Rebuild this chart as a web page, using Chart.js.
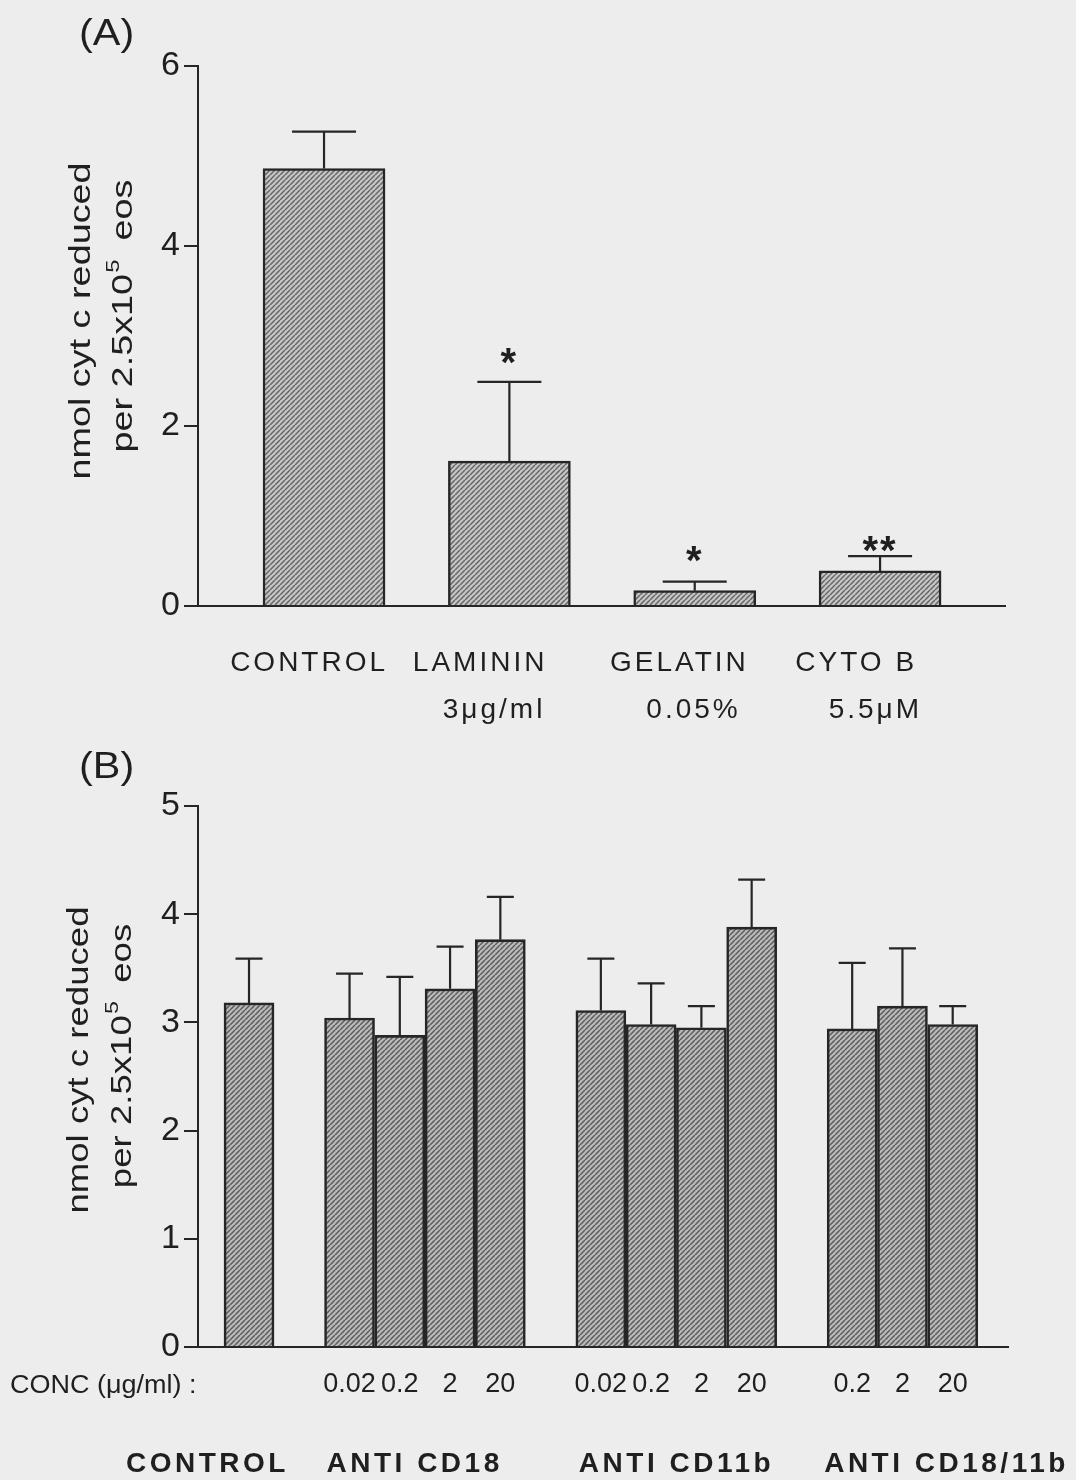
<!DOCTYPE html>
<html>
<head>
<meta charset="utf-8">
<script src="https://cdn.jsdelivr.net/npm/chart.js@4.4.0/dist/chart.umd.min.js"></script>
<style>
  html, body { margin: 0; padding: 0; background: #ededed; }
  #wrap { position: relative; width: 1076px; height: 1480px; overflow: hidden; }
  .box { position: absolute; left: 0; width: 1076px; height: 740px; }
  canvas { display: block; }
</style>
</head>
<body>
<div id="wrap">
  <div class="box" style="top:0px"><canvas id="cA" width="1076" height="740"></canvas></div>
  <div class="box" style="top:740px"><canvas id="cB" width="1076" height="740"></canvas></div>
</div>
<script>
// ---------------- DATA ----------------
// Panel A
const categoriesA = [['CONTROL'], ['LAMININ', '3μg/ml'], ['GELATIN', '0.05%'], ['CYTO B', '5.5μM']];
const meanA = [4.86, 1.61, 0.17, 0.39];
const semA  = [0.41, 0.88, 0.10, 0.165];
const sigA  = ['', '*', '*', '**'];
const yTicksA = [0, 2, 4, 6];

// Panel B
const groupsB = ['CONTROL', 'ANTI CD18', 'ANTI CD11b', 'ANTI CD18/11b'];
const groupOfBarB = [0, 1, 1, 1, 1, 2, 2, 2, 2, 3, 3, 3];
const concB = ['', '0.02', '0.2', '2', '20', '0.02', '0.2', '2', '20', '0.2', '2', '20'];
const meanB = [3.18, 3.04, 2.88, 3.31, 3.765, 3.11, 2.98, 2.95, 3.88, 2.94, 3.15, 2.98];
const semB  = [0.41, 0.41, 0.54, 0.39, 0.395, 0.48, 0.38, 0.20, 0.44, 0.61, 0.535, 0.17];
const yTicksB = [0, 1, 2, 3, 4, 5];
const concCaption = 'CONC (μg/ml) :';

// Shared text
const panelLetters = ['(A)', '(B)'];
const yTitleLine1 = 'nmol cyt c reduced';
const yTitleLine2 = ['per 2.5x10', '5', 'eos'];

// ---------------- STYLE ----------------
const FONT = '"Liberation Sans", Arial, Helvetica, sans-serif';
const INK = '#262626';
const TEXT = '#1f1f1f';

function hatchPattern(ctx, bg, fg) {
  const n = 5;
  const t = document.createElement('canvas');
  t.width = n; t.height = n;
  const g = t.getContext('2d');
  g.fillStyle = bg;
  g.fillRect(0, 0, n, n);
  g.strokeStyle = fg;
  g.lineWidth = 1.5;
  g.beginPath();
  for (const o of [-n, 0, n]) { g.moveTo(o, n); g.lineTo(o + n, 0); }
  g.stroke();
  return ctx.createPattern(t, 'repeat');
}

function drawText(ctx, s, x, y, opt) {
  ctx.save();
  ctx.font = opt.font;
  ctx.fillStyle = opt.color || TEXT;
  ctx.letterSpacing = opt.spacing || '0px';
  ctx.textBaseline = 'alphabetic';
  ctx.translate(x, y);
  ctx.scale(opt.sx || 1, 1);
  ctx.textAlign = opt.align || 'left';
  ctx.fillText(s, 0, 0);
  ctx.restore();
}

function drawYTitle(ctx, cfg) {
  ctx.save();
  ctx.fillStyle = TEXT;
  ctx.textBaseline = 'alphabetic';
  // line 1
  ctx.save();
  ctx.translate(cfg.base1, cfg.center1);
  ctx.rotate(-Math.PI / 2);
  ctx.scale(cfg.sx, 1);
  ctx.font = cfg.size + 'px ' + FONT;
  ctx.textAlign = 'center';
  ctx.fillText(yTitleLine1, 0, 0);
  ctx.restore();
  // line 2 with superscript
  ctx.save();
  ctx.translate(cfg.base2, cfg.center2);
  ctx.rotate(-Math.PI / 2);
  ctx.scale(cfg.sx, 1);
  ctx.textAlign = 'left';
  const mainFont = cfg.size + 'px ' + FONT;
  const supFont = Math.round(cfg.size * 0.62) + 'px ' + FONT;
  ctx.font = mainFont;
  const w1 = ctx.measureText(yTitleLine2[0]).width;
  const w3 = ctx.measureText(yTitleLine2[2]).width;
  ctx.font = supFont;
  const w2 = ctx.measureText(yTitleLine2[1]).width;
  const gapA = 1, gapB = cfg.size * 0.5;
  const total = w1 + gapA + w2 + gapB + w3;
  let x0 = -total / 2;
  ctx.font = mainFont;
  ctx.fillText(yTitleLine2[0], x0, 0);
  ctx.font = supFont;
  ctx.fillText(yTitleLine2[1], x0 + w1 + gapA, -cfg.size * 0.42);
  ctx.font = mainFont;
  ctx.fillText(yTitleLine2[2], x0 + w1 + gapA + w2 + gapB, 0);
  ctx.restore();
  ctx.restore();
}

// error bars
const errorBarPlugin = {
  id: 'errbars',
  afterDatasetsDraw(chart, args, o) {
    const ctx = chart.ctx, ys = chart.scales.y;
    const meta = chart.getDatasetMeta(0);
    ctx.save();
    ctx.strokeStyle = INK;
    ctx.lineWidth = 2.2;
    ctx.lineCap = 'butt';
    meta.data.forEach((bar, i) => {
      const v = o.mean[i], e = o.sem[i];
      const yTop = ys.getPixelForValue(v);
      const yErr = ys.getPixelForValue(v + e);
      ctx.beginPath();
      ctx.moveTo(bar.x, yTop);
      ctx.lineTo(bar.x, yErr);
      ctx.moveTo(bar.x - o.cap, yErr);
      ctx.lineTo(bar.x + o.cap, yErr);
      ctx.stroke();
    });
    ctx.restore();
  }
};

// text decorations panel A
const textPluginA = {
  id: 'textA',
  afterDraw(chart) {
    const ctx = chart.ctx, ys = chart.scales.y;
    const meta = chart.getDatasetMeta(0);
    drawText(ctx, panelLetters[0], 79, 45, { font: '36px ' + FONT, sx: 1.15 });
    drawYTitle(ctx, { base1: 90, base2: 132, center1: 321, center2: 316, size: 30, sx: 1.26 });
    const right1 = [64, 38, 54, 37];
    const right2 = [0, 36, 46, 42];
    meta.data.forEach((bar, i) => {
      const lab = categoriesA[i];
      drawText(ctx, lab[0], bar.x + right1[i], 671, { font: '28px ' + FONT, align: 'right', spacing: '3px', sx: 1.0 });
      if (lab[1]) drawText(ctx, lab[1], bar.x + right2[i], 718, { font: '28px ' + FONT, align: 'right', spacing: '3px' });
      if (sigA[i]) {
        const gap = [0, 26, 28, 12][i];
        const yc = ys.getPixelForValue(meanA[i] + semA[i]) - gap;
        ctx.save();
        ctx.font = 'bold 40px ' + FONT;
        ctx.fillStyle = TEXT;
        ctx.letterSpacing = '2px';
        const m = ctx.measureText(sigA[i]);
        const asc = m.actualBoundingBoxAscent, desc = m.actualBoundingBoxDescent;
        ctx.textAlign = 'center';
        ctx.textBaseline = 'alphabetic';
        ctx.fillText(sigA[i], bar.x, yc + (asc - desc) / 2);
        ctx.restore();
      }
    });
  }
};

// text decorations panel B
const textPluginB = {
  id: 'textB',
  afterDraw(chart) {
    const ctx = chart.ctx;
    const meta = chart.getDatasetMeta(0);
    drawText(ctx, panelLetters[1], 79, 38, { font: '36px ' + FONT, sx: 1.15 });
    drawYTitle(ctx, { base1: 88, base2: 131, center1: 320, center2: 316, size: 30, sx: 1.22 });
    drawText(ctx, concCaption, 10, 653, { font: '25px ' + FONT, sx: 1.08 });
    const leftOff = [-123, -23, -22, -28];
    groupsB.forEach((g, gi) => {
      const first = groupOfBarB.indexOf(gi);
      const bx = meta.data[first].x;
      drawText(ctx, g, bx + leftOff[gi], 732, { font: 'bold 28px ' + FONT, spacing: '3.5px' });
    });
  }
};

function yAxis(ticks) {
  return {
    type: 'linear',
    min: ticks[0],
    max: ticks[ticks.length - 1],
    afterBuildTicks(s) { s.ticks = ticks.map(v => ({ value: v })); },
    ticks: { font: { family: FONT, size: 34 }, color: TEXT, padding: 4, callback: v => String(v) },
    grid: { display: true, drawOnChartArea: false, drawTicks: true, tickLength: 14, color: INK, lineWidth: 2 },
    border: { display: true, color: INK, width: 2 },
    afterFit(s) { s.width = 198; }
  };
}

// ---------------- CHART A ----------------
const ctxA = document.getElementById('cA').getContext('2d');
new Chart(ctxA, {
  type: 'bar',
  data: {
    datasets: [{
      data: meanA.map((v, i) => ({ x: i, y: v })),
      backgroundColor: hatchPattern(ctxA, '#c6c6c6', '#666666'),
      borderColor: INK,
      borderWidth: 2.5,
      barThickness: 122
    }]
  },
  options: {
    responsive: false,
    animation: false,
    devicePixelRatio: 1,
    layout: { padding: { top: 66, right: 71, bottom: 0, left: 0 } },
    plugins: { legend: { display: false }, tooltip: { enabled: false }, errbars: { mean: meanA, sem: semA, cap: 32 } },
    scales: {
      x: {
        type: 'linear', min: -0.68, max: 3.674, offset: false,
        ticks: { display: false },
        grid: { display: false, drawTicks: false, offset: false },
        border: { display: true, color: INK, width: 2 },
        afterFit(s) { s.height = 134; }
      },
      y: yAxis(yTicksA)
    }
  },
  plugins: [errorBarPlugin, textPluginA]
});

// ---------------- CHART B ----------------
const slotsB = groupOfBarB.map((g, i) => i + g);
const ctxB = document.getElementById('cB').getContext('2d');
new Chart(ctxB, {
  type: 'bar',
  data: {
    datasets: [{
      data: meanB.map((v, i) => ({ x: slotsB[i], y: v })),
      backgroundColor: hatchPattern(ctxB, '#bababa', '#5c5c5c'),
      borderColor: INK,
      borderWidth: 2.6,
      barThickness: 50
    }]
  },
  options: {
    responsive: false,
    animation: false,
    devicePixelRatio: 1,
    layout: { padding: { top: 66, right: 68, bottom: 0, left: 0 } },
    plugins: { legend: { display: false }, tooltip: { enabled: false }, errbars: { mean: meanB, sem: semB, cap: 13.5 } },
    scales: {
      x: {
        type: 'linear', min: -1.015, max: 15.1, offset: false,
        afterBuildTicks(s) {
          s.ticks = slotsB.filter((_, i) => concB[i] !== '').map(v => ({ value: v }));
        },
        ticks: {
          autoSkip: false, maxRotation: 0, minRotation: 0,
          font: { family: FONT, size: 27 }, color: TEXT, padding: 21,
          callback: v => concB[slotsB.indexOf(v)]
        },
        grid: { display: false, drawTicks: false, offset: false },
        border: { display: true, color: INK, width: 2 },
        afterFit(s) { s.height = 133; }
      },
      y: yAxis(yTicksB)
    }
  },
  plugins: [errorBarPlugin, textPluginB]
});
</script>
</body>
</html>
